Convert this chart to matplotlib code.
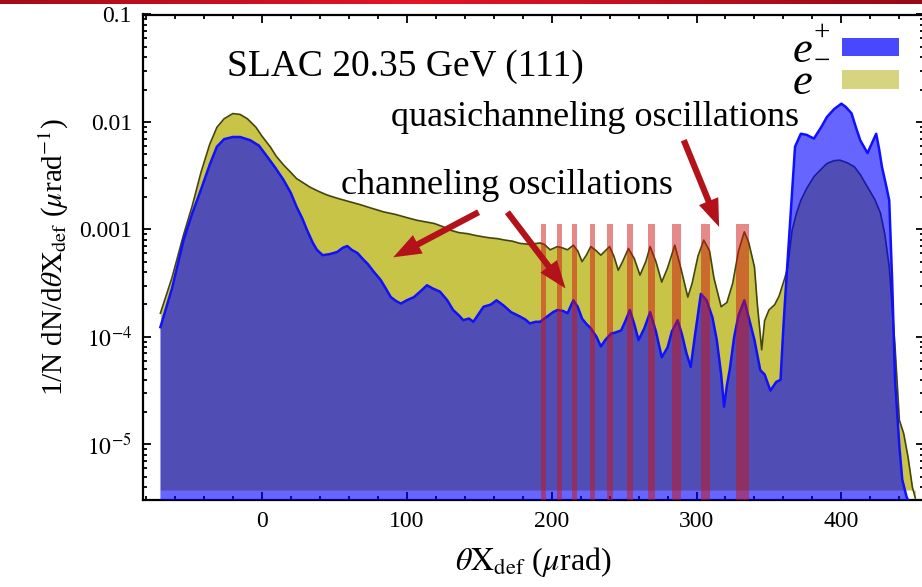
import numpy as np
import matplotlib
matplotlib.use("Agg")
import matplotlib.pyplot as plt
from matplotlib.patches import Rectangle
from matplotlib.ticker import FixedLocator, FixedFormatter, MultipleLocator, LogLocator, NullFormatter

plt.rcParams["font.family"] = ["Liberation Serif", "DejaVu Serif"]
plt.rcParams["mathtext.fontset"] = "stix"

# ---- positron (e+) angular distribution, log10 of 1/N dN/dθ ----
x_pos = [-70, -62, -54, -48, -42, -36, -31, -26, -20, -15, -8, -2, 3, 9, 15, 20, 24, 28,
         31, 35, 38, 42, 47, 52, 56, 59, 62, 66, 70, 73, 77, 82, 86, 89, 93, 96, 100,
         105, 110, 114, 118, 123, 128, 132, 136, 139, 143, 146, 150, 153, 158, 162,
         167, 172, 178, 182, 185, 189, 192, 197, 201, 204, 208, 211, 215, 218, 221,
         224, 227, 231, 234, 237, 241, 244, 248, 251, 254, 257, 260, 264, 268, 272,
         276, 280, 283, 287, 290, 293, 296, 299, 303, 307, 311, 314, 317, 319, 321,
         323, 326, 329, 333, 336, 340, 344, 347, 351, 355, 358, 360, 362, 365, 368,
         372, 376, 381, 386, 390, 395, 400, 403, 407, 410, 413, 418, 421, 424, 426,
         428, 431, 433, 435, 437, 440, 442, 445, 447]
log_pos = [-3.91, -3.55, -3.10, -2.85, -2.63, -2.40, -2.23, -2.16, -2.14, -2.14, -2.17,
           -2.22, -2.31, -2.42, -2.54, -2.66, -2.79, -2.90, -3.00, -3.12, -3.19, -3.24,
           -3.23, -3.21, -3.17, -3.155, -3.19, -3.22, -3.28, -3.32, -3.39, -3.47, -3.56,
           -3.63, -3.67, -3.69, -3.66, -3.63, -3.57, -3.52, -3.55, -3.58, -3.66, -3.75,
           -3.80, -3.845, -3.83, -3.86, -3.78, -3.72, -3.70, -3.66, -3.71, -3.77, -3.81,
           -3.84, -3.875, -3.86, -3.86, -3.81, -3.77, -3.75, -3.76, -3.78, -3.66, -3.72,
           -3.83, -3.88, -3.92, -4.00, -4.09, -4.03, -3.97, -3.96, -3.94, -3.85, -3.75,
           -3.88, -4.03, -3.92, -3.77, -3.95, -4.19, -4.10, -3.95, -3.845, -3.98, -4.15,
           -4.28, -3.98, -3.60, -3.66, -3.82, -4.03, -4.35, -4.65, -4.45, -4.30, -4.00,
           -3.80, -3.66, -3.82, -4.03, -4.31, -4.35, -4.50, -4.42, -4.40, -3.90, -3.47,
           -2.85, -2.23, -2.11, -2.12, -2.155, -2.05, -1.954, -1.88, -1.83, -1.86, -1.92,
           -2.05, -2.17, -2.29, -2.20, -2.11, -2.25, -2.42, -2.60, -2.73, -3.47, -4.40,
           -5.02, -5.33, -5.49, -5.55]

# ---- electron (e-) angular distribution, log10 of 1/N dN/dθ ----
x_ele = [-70, -62, -54, -48, -42, -36, -31, -26, -20, -15, -10, -4, 0, 6, 10, 15, 20,
         24, 29, 33, 39, 45, 52, 61, 68, 75, 84, 92, 100, 107, 113, 119, 125, 130, 136,
         142, 147, 153, 158, 162, 168, 173, 178, 185, 192, 195, 199, 204, 207, 211, 215,
         218, 221, 224, 227, 230, 234, 237, 240, 243, 246, 249, 253, 257, 261, 265, 268,
         272, 276, 280, 285, 289, 294, 297, 301, 305, 309, 312, 317, 321, 325, 329, 333,
         336, 340, 342, 345, 347, 350, 354, 357, 361, 363, 366, 369, 372, 376, 381, 386,
         390, 395, 399, 404, 409, 413, 418, 423, 427, 430, 433, 437, 440, 443, 446, 449,
         451]
log_ele = [-3.78, -3.45, -3.05, -2.78, -2.47, -2.21, -2.05, -1.97, -1.922, -1.93, -1.97,
           -2.05, -2.13, -2.235, -2.32, -2.40, -2.47, -2.527, -2.57, -2.605, -2.645, -2.68,
           -2.71, -2.744, -2.77, -2.80, -2.837, -2.86, -2.89, -2.915, -2.93, -2.945, -2.975,
           -3.007, -3.03, -3.04, -3.055, -3.07, -3.08, -3.085, -3.10, -3.11, -3.13, -3.14,
           -3.126, -3.14, -3.19, -3.16, -3.17, -3.19, -3.147, -3.20, -3.30, -3.24, -3.16,
           -3.19, -3.24, -3.20, -3.16, -3.25, -3.38, -3.30, -3.178, -3.27, -3.426, -3.30,
           -3.16, -3.30, -3.49, -3.36, -3.147, -3.35, -3.63, -3.50, -3.25, -3.10, -3.20,
           -3.45, -3.72, -3.68, -3.50, -3.20, -3.023, -3.12, -3.35, -3.70, -4.12, -3.85,
           -3.75, -3.70, -3.62, -3.45, -3.35, -3.007, -2.85, -2.73, -2.62, -2.51, -2.44,
           -2.387, -2.36, -2.356, -2.38, -2.418, -2.49, -2.605, -2.72, -2.85, -3.05, -3.35,
           -4.09, -4.775, -4.90, -5.12, -5.40, -5.50]

# ---- highlighted oscillation peaks ----
band_centers = [194.4, 205.5, 216.0, 228.0, 240.3, 254.2, 268.9, 286.2, 306.1, 331.8]
band_widths = [3.2, 3.2, 3.5, 3.5, 3.7, 4.4, 4.8, 5.8, 6.4, 9.0]
band_top = 1.12e-3

x_ticks = [0, 100, 200, 300, 400]
y_ticks = [1e-5, 1e-4, 1e-3, 1e-2, 1e-1]
y_tick_labels = [r"$10^{-5}$", r"$10^{-4}$", "0.001", "0.01", "0.1"]

y_min, y_max = 3.03e-6, 0.1
ele_floor = 3.75e-6

e_plus = 10.0 ** np.array(log_pos)
e_minus = 10.0 ** np.array(log_ele)

W, H = 922, 587
fig = plt.figure(figsize=(W / 100, H / 100), dpi=100)

# slide header strip
hdr = fig.add_axes([0, 1 - 4 / H, 1, 4 / H])
grad = np.linspace(0, 1, 256)
prof = np.clip(1 - np.abs(grad - 0.45) * 1.6, 0, 1)
img = np.zeros((1, 256, 3))
img[0, :, 0] = 0.55 + 0.35 * prof
img[0, :, 1] = 0.03 + 0.05 * prof
img[0, :, 2] = 0.08 + 0.07 * prof
hdr.imshow(img, aspect="auto", extent=[0, 1, 0, 1])
hdr.set_axis_off()

ax = fig.add_axes([143 / W, 87 / H, 781 / W, 485.5 / H])
ax.set_yscale("log")

yellow = (200 / 255, 196 / 255, 72 / 255)
ax.fill_between(x_ele, e_minus, ele_floor, color=yellow, lw=0, zorder=1)
ax.plot(x_ele, e_minus, color="#44440c", lw=1.2, zorder=2)
ax.fill_between(x_pos, e_plus, 1e-8, color=(0, 0, 1), alpha=0.6, lw=0, zorder=3)
ax.plot(x_pos, e_plus, color="#1010ff", lw=1.8, zorder=4)

ax.bar(band_centers, [band_top - 1e-8] * len(band_centers), bottom=1e-8,
       width=band_widths, color=(0.8, 0.08, 0.08), alpha=0.5, lw=0, zorder=5)

ax.set_xlim(-82, 457)
ax.set_ylim(y_min, y_max)

ax.xaxis.set_major_locator(FixedLocator(x_ticks))
ax.xaxis.set_minor_locator(MultipleLocator(20))
ax.yaxis.set_major_locator(FixedLocator(y_ticks))
ax.yaxis.set_major_formatter(FixedFormatter(y_tick_labels))
ax.yaxis.set_minor_locator(LogLocator(base=10, subs=np.arange(2, 10)))
ax.yaxis.set_minor_formatter(NullFormatter())
ax.tick_params(which="both", direction="in", top=True, right=True, labelsize=17,
               width=1.3, colors="black")
ax.tick_params(which="major", length=6, pad=8)
ax.tick_params(which="minor", length=3)
for s in ax.spines.values():
    s.set_linewidth(1.6)

ax.set_xlabel(r"$\theta\mathrm{X}_{\mathrm{def}}$ ($\mu$rad)", fontsize=23, labelpad=9)
ax.set_ylabel(r"1/N dN/d$\theta\mathrm{X}_{\mathrm{def}}$ ($\mu$rad$^{-1}$)", fontsize=21,
              labelpad=6)

ax.text(405 / W, 1 - 67 / H, "SLAC 20.35 GeV (111)", transform=fig.transFigure,
        fontsize=27, ha="center", va="center", zorder=10)
ax.text(595 / W, 1 - 118 / H, "quasichanneling oscillations", transform=fig.transFigure,
        fontsize=26, ha="center", va="center", zorder=10)
ax.text(507 / W, 1 - 185 / H, "channeling oscillations", transform=fig.transFigure,
        fontsize=26, ha="center", va="center", zorder=10)

arrow_color = "#b3121a"
arrows = [((291.2, 6.76e-3), (315.6, 1.055e-3)),
          ((149.6, 1.445e-3), (90.7, 5.5e-4)),
          ((169.5, 1.445e-3), (209.6, 2.82e-4))]
for tail, tip in arrows:
    ax.annotate("", xy=tip, xytext=tail, zorder=11,
                arrowprops=dict(facecolor=arrow_color, edgecolor="none", width=4.5,
                                headwidth=15, headlength=20, shrink=0))

# legend: italic e with charge signs, and colour swatches
fig.text(802 / W, 1 - 67 / H, "e\ne", fontsize=32, fontstyle="italic", ha="center",
         va="center", linespacing=0.72)
fig.text(822 / W, 1 - 47 / H, "+\n\u2212", fontsize=21, ha="center", va="center",
         linespacing=1.15)
fig.patches.append(Rectangle((842 / W, 1 - 55.7 / H), 57 / W, 18 / H,
                             transform=fig.transFigure, color="#4848ff", lw=0))
fig.patches.append(Rectangle((842 / W, 1 - 89 / H), 57 / W, 19 / H,
                             transform=fig.transFigure, color="#d6d480", lw=0))

fig.savefig("out.png", dpi=100)
